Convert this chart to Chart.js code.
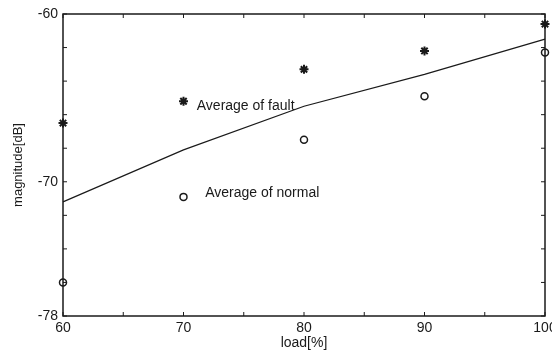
<!DOCTYPE html>
<html>
<head>
<meta charset="utf-8">
<script src="https://cdn.jsdelivr.net/npm/chart.js@4/dist/chart.umd.min.js"></script>
<style>
    html, body { margin: 0; padding: 0; background: #ffffff; }
    #wrap { width: 552px; height: 354px; }
</style>
</head>
<body>
<div id="wrap"><canvas id="loadChart" width="552" height="354"></canvas></div>
<script>
// load levels and measured magnitudes
const loads = [60, 70, 80, 90, 100];
const faultValues = [-66.5, -65.2, -63.3, -62.2, -60.6];   // stars
const normalValues = [-76.0, -70.9, -67.5, -64.9, -62.3];  // circles
const lineValues = [-71.2, -68.1, -65.5, -63.6, -61.5];    // solid line

// ticks (minor + labelled)
const xTicks = [60, 65, 70, 75, 80, 85, 90, 95, 100];
const xLabels = [60, 70, 80, 90, 100];
const yTicks = [-78, -76, -74, -72, -70, -68, -66, -64, -62, -60];
const yLabels = [-78, -70, -60];

// text labels inside the plot
const notes = [
    { text: 'Average of fault', x: 71.1, y: -65.5 },
    { text: 'Average of normal', x: 71.8, y: -70.7 }
];

const ink = '#1a1a1a';
const fontFamily = "'Liberation Sans', Arial, sans-serif";

function toPoints(values) {
    return loads.map((l, i) => ({ x: l, y: values[i] }));
}

// frame on all four sides, inward ticks and the notes
const framePlugin = {
    id: 'frame',
    afterDatasetsDraw(chart) {
        const { ctx, chartArea: a, scales } = chart;
        ctx.save();
        ctx.strokeStyle = ink;
        ctx.lineWidth = 1.5;
        ctx.strokeRect(a.left, a.top, a.right - a.left, a.bottom - a.top);

        ctx.lineWidth = 1;
        ctx.beginPath();
        xTicks.forEach(v => {
            const px = scales.x.getPixelForValue(v);
            ctx.moveTo(px, a.bottom); ctx.lineTo(px, a.bottom - 4);
            ctx.moveTo(px, a.top); ctx.lineTo(px, a.top + 4);
        });
        yTicks.forEach(v => {
            const py = scales.y.getPixelForValue(v);
            ctx.moveTo(a.left, py); ctx.lineTo(a.left + 4, py);
            ctx.moveTo(a.right, py); ctx.lineTo(a.right - 4, py);
        });
        ctx.stroke();

        ctx.fillStyle = ink;
        ctx.font = '14px ' + fontFamily;
        ctx.textAlign = 'left';
        ctx.textBaseline = 'middle';
        notes.forEach(n => {
            ctx.fillText(n.text, scales.x.getPixelForValue(n.x), scales.y.getPixelForValue(n.y));
        });
        ctx.restore();
    }
};

function initializeLoadChart() {
    const data = {
        datasets: [
            {
                label: 'line',
                data: toPoints(lineValues),
                showLine: true,
                borderColor: ink,
                borderWidth: 1.2,
                pointRadius: 0,
                clip: false
            },
            {
                label: 'Average of fault',
                data: toPoints(faultValues),
                pointStyle: 'star',
                pointRadius: 4.5,
                borderColor: ink,
                backgroundColor: ink,
                pointBorderWidth: 2,
                clip: false
            },
            {
                label: 'Average of normal',
                data: toPoints(normalValues),
                pointStyle: 'circle',
                pointRadius: 3.5,
                borderColor: ink,
                backgroundColor: '#ffffff',
                pointBorderWidth: 1.5,
                clip: false
            }
        ]
    };

    const config = {
        type: 'scatter',
        data: data,
        plugins: [framePlugin],
        options: {
            responsive: false,
            animation: false,
            layout: { padding: { left: 11, top: 14, right: 7, bottom: 2 } },
            plugins: {
                legend: { display: false },
                tooltip: { enabled: false }
            },
            scales: {
                x: {
                    type: 'linear',
                    min: 60,
                    max: 100,
                    afterBuildTicks: scale => { scale.ticks = xLabels.map(v => ({ value: v })); },
                    afterFit: scale => {
                        scale.height = 36;
                        scale.paddingLeft = 0;
                        scale.paddingRight = 0;
                    },
                    grid: { display: false, drawTicks: false },
                    border: { display: false },
                    ticks: {
                        color: ink,
                        padding: 4,
                        maxRotation: 0,
                        font: { family: fontFamily, size: 14 }
                    },
                    title: {
                        display: true,
                        text: 'load[%]',
                        color: ink,
                        padding: { top: 0, bottom: 0 },
                        font: { family: fontFamily, size: 14 }
                    }
                },
                y: {
                    type: 'linear',
                    min: -78,
                    max: -60,
                    afterBuildTicks: scale => { scale.ticks = yLabels.map(v => ({ value: v })); },
                    afterFit: scale => {
                        scale.width = 52;
                        scale.paddingTop = 0;
                        scale.paddingBottom = 0;
                    },
                    grid: { display: false, drawTicks: false },
                    border: { display: false },
                    ticks: {
                        color: ink,
                        padding: 5,
                        font: { family: fontFamily, size: 14 }
                    },
                    title: {
                        display: true,
                        text: 'magnitude[dB]',
                        color: ink,
                        padding: { top: 0, bottom: 0 },
                        font: { family: fontFamily, size: 13 }
                    }
                }
            }
        }
    };

    const ctx = document.getElementById('loadChart').getContext('2d');
    new Chart(ctx, config);
}

document.addEventListener('DOMContentLoaded', initializeLoadChart);
</script>
</body>
</html>
